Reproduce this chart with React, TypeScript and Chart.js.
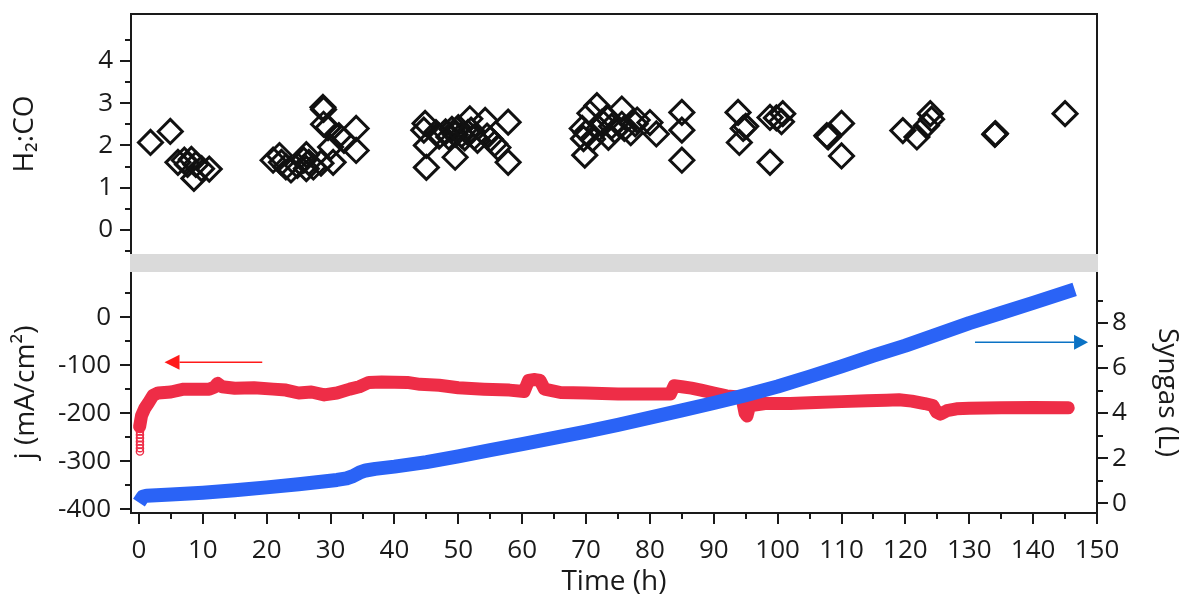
import React, { useEffect, useRef } from 'react';
import { Chart, registerables } from 'chart.js';

Chart.register(...registerables);

const FONT_FAMILY = '"Open Sans", "Noto Sans", "DejaVu Sans", sans-serif';
const TEXT = '#1a1a1a';
const AXIS = '#1a1a1a';
const RED = '#ee2d47';
const BLUE = '#2a63f6';
const BAND = '#dadada';

// ---- tick values ----
const timeMajorTicks = [0, 10, 20, 30, 40, 50, 60, 70, 80, 90, 100, 110, 120, 130, 140, 150];
const timeMinorTicks = [5, 15, 25, 35, 45, 55, 65, 75, 85, 95, 105, 115, 125, 135, 145];
const ratioMajorTicks = [0, 1, 2, 3, 4];
const ratioMinorTicks = [-0.5, 0.5, 1.5, 2.5, 3.5, 4.5];
const currentMajorTicks = [-400, -300, -200, -100, 0];
const currentMinorTicks = [-350, -250, -150, -50, 50];
const syngasMajorTicks = [0, 2, 4, 6, 8];
const syngasMinorTicks = [1, 3, 5, 7, 9];

// ---- H2:CO ratio (time h, ratio) ----
const ratioPoints: [number, number][] = [
  [1.8, 2.07], [4.9, 2.33], [6.1, 1.6], [7.1, 1.65], [7.6, 1.55], [8.2, 1.67], [8.9, 1.55],
  [8.6, 1.22], [9.8, 1.45], [11, 1.44],
  [21, 1.65], [22, 1.76], [22.3, 1.6], [23, 1.49], [23.8, 1.42], [24.8, 1.53], [25.8, 1.65],
  [26.2, 1.78], [26.6, 1.6], [27.3, 1.49], [26.2, 1.45], [28.5, 1.58], [30.4, 1.6],
  [28.8, 2.9], [28.9, 2.85], [28.9, 2.5], [29.6, 2.42], [31.3, 2.23], [30, 1.96], [32.1, 2.12],
  [34, 2.4], [34, 1.88],
  [44.8, 2.52], [44.6, 2.36], [45, 2.0], [45, 1.48], [46.5, 2.3], [47, 2.22], [48, 2.32],
  [48.5, 2.2], [49, 2.38], [49.5, 2.26], [50, 2.42], [50.5, 2.25], [51, 2.18], [51.5, 2.3],
  [52, 2.36], [52.5, 2.2], [53, 2.12], [49.5, 1.72], [51.8, 2.63], [54.2, 2.59], [57.8, 2.55],
  [55.7, 2.04], [56.2, 1.95], [57.8, 1.6], [54.5, 2.22], [55, 2.15],
  [69.8, 1.77], [69.6, 2.16], [69.4, 2.4], [70, 2.3], [70.6, 2.76], [71.7, 2.94], [71, 2.15],
  [72, 2.4], [72.5, 2.55], [73.3, 2.66], [73.5, 2.19], [74, 2.45], [74.5, 2.35], [75.6, 2.86],
  [75.6, 2.5], [76, 2.4], [77, 2.3], [77.7, 2.51], [78, 2.6], [80, 2.54], [81, 2.27],
  [85, 2.78], [85, 2.36], [85, 1.65],
  [93.8, 2.78], [94.6, 2.4], [94, 2.07], [95, 2.45], [98.8, 2.66], [100.8, 2.75], [100.6, 2.56],
  [99.8, 2.65], [98.8, 1.6],
  [107.7, 2.23], [107.9, 2.2], [110, 2.52], [110, 1.75],
  [119.6, 2.35], [121.8, 2.2], [123.3, 2.47], [123.9, 2.75], [124.1, 2.62],
  [134, 2.26], [134.1, 2.28], [145, 2.75],
];

// ---- current density (time h, mA/cm2) ----
const currentPoints: [number, number][] = [
  [0.1, -228], [0.4, -205], [0.9, -190], [1.5, -178], [2.2, -163], [3, -158], [5, -156],
  [7, -150], [9, -150], [11, -150], [11.8, -146], [12.3, -138], [13, -145], [15, -148],
  [18, -147], [21, -150], [23, -152], [25, -158], [27, -156], [29, -162], [31, -158],
  [33, -150], [34.5, -145], [36, -136], [38, -135], [42, -136], [44, -140], [47, -142],
  [50, -147], [54, -150], [58, -152], [60.3, -155], [61, -132], [62, -130], [62.8, -132],
  [63.5, -150], [66, -157], [70, -158], [75, -160], [80, -160], [83.2, -160], [83.8, -143],
  [85, -145], [86.5, -148], [88, -152], [90, -158], [92, -164], [94.4, -167], [94.9, -200],
  [95.2, -206], [95.6, -185], [98, -180], [102, -180], [106, -178], [110, -176], [114, -174],
  [117, -173], [119, -172], [121, -175], [123, -180], [124.3, -184], [124.9, -198],
  [125.5, -202], [126.5, -195], [128, -191], [130, -190], [135, -189], [140, -188], [145.5, -189],
];

const currentStartPoints: [number, number][] = [
  [0.15, -280], [0.15, -273], [0.15, -266], [0.15, -259], [0.15, -252], [0.15, -245], [0.15, -238],
];

// ---- syngas volume (time h, L) ----
const syngasPoints: [number, number][] = [
  [0, 0.02], [0.6, 0.28], [1.2, 0.33], [5, 0.38], [10, 0.46], [15, 0.57], [20, 0.7], [25, 0.84],
  [31, 1.03], [32.5, 1.1], [33.5, 1.2], [34.5, 1.35], [35.5, 1.45], [37, 1.52], [40, 1.62],
  [45, 1.82], [50, 2.08], [55, 2.35], [60, 2.62], [65, 2.9], [70, 3.18], [75, 3.48], [80, 3.8],
  [85, 4.12], [90, 4.45], [95, 4.8], [100, 5.18], [105, 5.62], [110, 6.08], [115, 6.55],
  [120, 7.0], [125, 7.5], [130, 8.0], [135, 8.45], [140, 8.9], [146.5, 9.5],
];

// ---- annotation arrows (data coordinates) ----
const redArrow = { fromTime: 19.3, toTime: 4.0, current: -94 };
const blueArrow = { fromTime: 130.9, toTime: 148.6, syngas: 7.15 };

const tickFont = { family: FONT_FAMILY, size: 26 };
const titleFont = { family: FONT_FAMILY, size: 28 };

function drawArrow(ctx: CanvasRenderingContext2D, x1: number, y: number, x2: number, color: string, headLen: number, headHalf: number) {
  const dir = Math.sign(x2 - x1);
  ctx.save();
  ctx.strokeStyle = color;
  ctx.fillStyle = color;
  ctx.lineWidth = 1.6;
  ctx.beginPath();
  ctx.moveTo(x1, y);
  ctx.lineTo(x2 - dir * headLen, y);
  ctx.stroke();
  ctx.beginPath();
  ctx.moveTo(x2, y);
  ctx.lineTo(x2 - dir * headLen, y - headHalf);
  ctx.lineTo(x2 - dir * headLen, y + headHalf);
  ctx.closePath();
  ctx.fill();
  ctx.restore();
}

const topFramePlugin = {
  id: 'topFrame',
  afterDraw(chart: any) {
    const { ctx, chartArea } = chart;
    const { left, right, top, bottom } = chartArea;
    const y = chart.scales.y;
    ctx.save();
    ctx.strokeStyle = AXIS;
    ctx.lineWidth = 2;
    ctx.beginPath();
    ctx.moveTo(left, bottom);
    ctx.lineTo(left, top);
    ctx.lineTo(right, top);
    ctx.lineTo(right, bottom);
    ctx.stroke();
    ctx.beginPath();
    ratioMajorTicks.forEach((v) => {
      const py = Math.round(y.getPixelForValue(v));
      ctx.moveTo(left, py);
      ctx.lineTo(left - 11, py);
    });
    ratioMinorTicks.forEach((v) => {
      const py = Math.round(y.getPixelForValue(v));
      ctx.moveTo(left, py);
      ctx.lineTo(left - 6, py);
    });
    ctx.stroke();
    ctx.restore();
  },
};

const bottomFramePlugin = {
  id: 'bottomFrame',
  beforeDraw(chart: any) {
    const { ctx, chartArea } = chart;
    ctx.save();
    ctx.fillStyle = BAND;
    ctx.fillRect(chartArea.left - 1, 0, chartArea.right - chartArea.left + 2, chartArea.top);
    ctx.restore();
  },
  afterDraw(chart: any) {
    const { ctx, chartArea } = chart;
    const { left, right, top, bottom } = chartArea;
    const x = chart.scales.x;
    const y = chart.scales.y;
    const y2 = chart.scales.y2;
    ctx.save();
    ctx.strokeStyle = AXIS;
    ctx.lineWidth = 2;
    ctx.beginPath();
    ctx.moveTo(left, top);
    ctx.lineTo(left, bottom);
    ctx.lineTo(right, bottom);
    ctx.lineTo(right, top);
    ctx.stroke();
    ctx.beginPath();
    currentMajorTicks.forEach((v) => {
      const py = Math.round(y.getPixelForValue(v));
      ctx.moveTo(left, py);
      ctx.lineTo(left - 11, py);
    });
    currentMinorTicks.forEach((v) => {
      const py = Math.round(y.getPixelForValue(v));
      ctx.moveTo(left, py);
      ctx.lineTo(left - 6, py);
    });
    syngasMajorTicks.forEach((v) => {
      const py = Math.round(y2.getPixelForValue(v));
      ctx.moveTo(right, py);
      ctx.lineTo(right + 11, py);
    });
    syngasMinorTicks.forEach((v) => {
      const py = Math.round(y2.getPixelForValue(v));
      ctx.moveTo(right, py);
      ctx.lineTo(right + 6, py);
    });
    timeMajorTicks.forEach((v) => {
      const px = Math.round(x.getPixelForValue(v));
      ctx.moveTo(px, bottom);
      ctx.lineTo(px, bottom + 11);
    });
    timeMinorTicks.forEach((v) => {
      const px = Math.round(x.getPixelForValue(v));
      ctx.moveTo(px, bottom);
      ctx.lineTo(px, bottom + 6);
    });
    ctx.stroke();
    ctx.restore();

    drawArrow(
      ctx,
      x.getPixelForValue(redArrow.fromTime),
      y.getPixelForValue(redArrow.current),
      x.getPixelForValue(redArrow.toTime),
      '#ff1a1a',
      15,
      7.5
    );
    drawArrow(
      ctx,
      x.getPixelForValue(blueArrow.fromTime),
      y2.getPixelForValue(blueArrow.syngas),
      x.getPixelForValue(blueArrow.toTime),
      '#0b72c4',
      14,
      7.5
    );
  },
};

const toXY = (pts: [number, number][]) => pts.map(([a, b]) => ({ x: a, y: b }));

const zeroVPad = (s: any) => {
  s.paddingTop = 0;
  s.paddingBottom = 0;
};

export default function App() {
  const topRef = useRef<HTMLCanvasElement>(null);
  const bottomRef = useRef<HTMLCanvasElement>(null);

  useEffect(() => {
    const topChart = new Chart(topRef.current as HTMLCanvasElement, {
      type: 'scatter',
      data: {
        datasets: [
          {
            data: toXY(ratioPoints),
            pointStyle: 'rectRot',
            pointRadius: 12,
            pointBorderWidth: 3,
            pointBorderColor: '#111111',
            pointBackgroundColor: 'rgba(0,0,0,0)',
            clip: false,
          } as any,
        ],
      },
      options: {
        responsive: false,
        animation: false,
        devicePixelRatio: 1,
        events: [],
        layout: { autoPadding: false, padding: { top: 24, right: 88, bottom: 16, left: 0 } },
        plugins: { legend: { display: false }, tooltip: { enabled: false } },
        scales: {
          x: { type: 'linear', min: -1.25, max: 150, display: false },
          y: {
            type: 'linear',
            position: 'left',
            min: -0.567,
            max: 5.106,
            grid: { display: false, drawTicks: false },
            border: { display: false },
            afterBuildTicks: (s: any) => {
              s.ticks = ratioMajorTicks.map((v) => ({ value: v }));
            },
            afterFit: (s: any) => {
              s.width = 131;
              zeroVPad(s);
            },
            ticks: { padding: 18, color: TEXT, font: tickFont, callback: (v: any) => String(v) },
            title: { display: true, text: 'H₂:CO', color: TEXT, font: titleFont, padding: { top: 8, bottom: 0 } },
          },
        },
      } as any,
      plugins: [topFramePlugin],
    });

    const bottomChart = new Chart(bottomRef.current as HTMLCanvasElement, {
      type: 'line',
      data: {
        datasets: [
          {
            data: toXY(syngasPoints),
            yAxisID: 'y2',
            borderColor: BLUE,
            borderWidth: 14,
            borderCapStyle: 'butt',
            borderJoinStyle: 'round',
            pointRadius: 0,
            tension: 0,
            fill: false,
          },
          {
            data: toXY(currentPoints),
            yAxisID: 'y',
            borderColor: RED,
            borderWidth: 13,
            borderCapStyle: 'round',
            borderJoinStyle: 'round',
            pointRadius: 0,
            tension: 0,
            fill: false,
          },
          {
            data: toXY(currentStartPoints),
            yAxisID: 'y',
            showLine: false,
            pointStyle: 'circle',
            pointRadius: 3.6,
            pointBorderWidth: 1.4,
            pointBorderColor: RED,
            pointBackgroundColor: 'rgba(0,0,0,0)',
          },
        ] as any,
      },
      options: {
        responsive: false,
        animation: false,
        devicePixelRatio: 1,
        events: [],
        layout: { autoPadding: false, padding: { top: 18, right: 0, bottom: 0, left: 0 } },
        plugins: { legend: { display: false }, tooltip: { enabled: false } },
        scales: {
          x: {
            type: 'linear',
            position: 'bottom',
            min: -1.25,
            max: 150,
            grid: { display: false, drawTicks: false },
            border: { display: false },
            afterBuildTicks: (s: any) => {
              s.ticks = timeMajorTicks.map((v) => ({ value: v }));
            },
            afterFit: (s: any) => {
              s.height = 91;
              s.paddingLeft = 0;
              s.paddingRight = 0;
            },
            ticks: { padding: 22, color: TEXT, font: tickFont, maxRotation: 0, autoSkip: false, callback: (v: any) => String(v) },
            title: { display: true, text: 'Time (h)', color: TEXT, font: titleFont, padding: { top: 0, bottom: 5 } },
          },
          y: {
            type: 'linear',
            position: 'left',
            min: -408,
            max: 94,
            grid: { display: false, drawTicks: false },
            border: { display: false },
            afterBuildTicks: (s: any) => {
              s.ticks = currentMajorTicks.map((v) => ({ value: v }));
            },
            afterFit: (s: any) => {
              s.width = 131;
              zeroVPad(s);
            },
            ticks: { padding: 20, color: TEXT, font: tickFont, callback: (v: any) => String(v) },
            title: { display: true, text: 'j (mA/cm²)', color: TEXT, font: titleFont, padding: { top: 9, bottom: 0 } },
          },
          y2: {
            type: 'linear',
            position: 'right',
            min: -0.44,
            max: 10.27,
            grid: { display: false, drawTicks: false },
            border: { display: false },
            afterBuildTicks: (s: any) => {
              s.ticks = syngasMajorTicks.map((v) => ({ value: v }));
            },
            afterFit: (s: any) => {
              s.width = 88;
              zeroVPad(s);
            },
            ticks: { padding: 15, color: TEXT, font: tickFont, callback: (v: any) => String(v) },
            title: { display: true, text: 'Syngas (L)', color: TEXT, font: titleFont, padding: { top: 1, bottom: 0 } },
          },
        },
      } as any,
      plugins: [bottomFramePlugin],
    });

    return () => {
      topChart.destroy();
      bottomChart.destroy();
    };
  }, []);

  return (
    <div style={{ position: 'fixed', left: 0, top: 0, width: 1185, height: 604, background: '#ffffff', overflow: 'hidden' }}>
      <canvas ref={topRef} width={1185} height={280} style={{ position: 'absolute', left: 0, top: -10, width: 1185, height: 280 }} />
      <canvas ref={bottomRef} width={1185} height={350} style={{ position: 'absolute', left: 0, top: 254, width: 1185, height: 350 }} />
    </div>
  );
}
